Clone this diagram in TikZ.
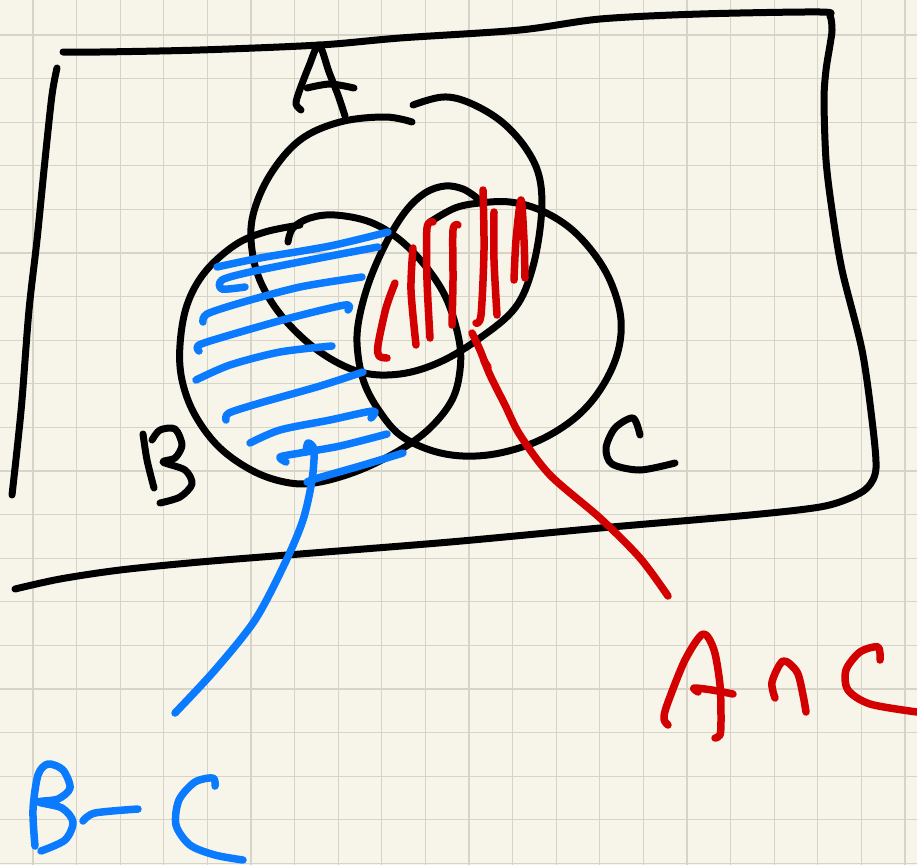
\documentclass[tikz,border=0pt]{standalone}
\definecolor{paper}{RGB}{247,245,233}
\definecolor{gridc}{RGB}{214,212,198}
\definecolor{pblue}{RGB}{10,122,255}
\definecolor{pred}{RGB}{210,0,0}
\tikzset{
  ink/.style={line width=7pt, line cap=round, line join=round},
  blk/.style={ink, black},
  blu/.style={ink, pblue, line width=7.5pt},
  rd/.style={ink, pred, line width=7.5pt},
  gridline/.style={gridc, line width=1.3pt}
}
\begin{document}
\begin{tikzpicture}[x=1pt,y=-1pt]
\fill[paper] (0,0) rectangle (917,865);
\useasboundingbox (0,0) rectangle (917,865);
\foreach \i in {0,...,20} \draw[gridline] ({33+43.6*\i},0) -- ({33+43.6*\i},865);
\foreach \i in {0,...,19} \draw[gridline] (0,{35+43.6*\i}) -- (917,{35+43.6*\i});

% frame
\draw[blk] plot[smooth, tension=0.5] coordinates {(63,52) (100,52) (200,50) (320,45) (400,38) (520,30) (600,19) (700,14) (820,12) (830,16) (832,30) (830,45) (826,70) (824,100) (826,160) (832,210) (842,270) (862,350) (872,420) (876,468) (868,487) (850,498) (820,507) (750,515) (600,528) (450,542) (300,554) (200,562) (120,570) (60,579) (15,589)};
\draw[blk] plot[smooth, tension=0.5] coordinates {(57,68) (52,95) (45,160) (37,240) (29,310) (22,400) (17,450) (12,495)};

% letter A
\draw[blk] plot[smooth, tension=0.5] coordinates {(301,110) (296,104) (299,92) (309,66) (319,45) (329,72) (338,95) (345,116)};
\draw[blk] plot[smooth, tension=0.5] coordinates {(307,88) (330,84) (354,88)};

% circle A
\draw[blk] plot[smooth, tension=0.6] coordinates {(412,122) (385,117) (340,122) (300,140) (270,175) (253,215) (252,250) (262,285) (285,320) (320,352) (360,372) (400,374) (440,362) (480,338) (515,308) (532,270) (541,220) (540,180) (527,150) (502,122) (470,103) (443,97) (413,105)};

% circle B
\draw[blk] plot[smooth, tension=0.6] coordinates {(288,242) (293,228) (310,218) (335,215) (370,222) (400,240) (427,268) (447,300) (459,340) (460,370) (452,400) (430,428) (400,450) (360,470) (320,482) (290,483) (255,472) (220,448) (195,415) (182,380) (180,345) (187,305) (205,272) (235,245) (265,232) (300,225)};

% circle C
\draw[blk] plot[smooth, tension=0.6] coordinates {(477,198) (463,189) (445,186) (425,193) (405,212) (385,245) (368,285) (358,325) (358,355) (365,385) (380,412) (400,435) (430,450) (463,456) (500,453) (540,440) (575,418) (600,390) (617,355) (621,320) (612,285) (595,255) (570,228) (540,210) (510,202) (480,203) (455,208) (430,222)};

% letter B
\draw[blk] plot[smooth, tension=0.5] coordinates {(143,434) (147,460) (154,488)};
\draw[blk] plot[smooth, tension=0.5] coordinates {(152,440) (160,430) (175,429) (182,445) (175,458) (163,462) (185,470) (192,484) (180,497) (160,503)};

% letter C
\draw[blk] plot[smooth, tension=0.5] coordinates {(640,435) (633,418) (615,428) (606,448) (612,464) (640,470) (675,463)};

% red hatching (A cap C)
\draw[rd] plot[smooth, tension=0.5] coordinates {(395,283) (386,308) (378,345) (379,356) (387,358)};
\draw[rd] plot[smooth, tension=0.5] coordinates {(413,248) (411,290) (416,345)};
\draw[rd] plot[smooth, tension=0.5] coordinates {(433,222) (427,228) (427,280) (430,338)};
\draw[rd] plot[smooth, tension=0.5] coordinates {(458,225) (453,230) (453,280) (452,325)};
\draw[rd] plot[smooth, tension=0.5] coordinates {(483,190) (484,250) (481,315) (476,323)};
\draw[rd] plot[smooth, tension=0.5] coordinates {(494,212) (494,260) (497,315)};
\draw[rd] plot[smooth, tension=0.5] coordinates {(514,280) (516,240) (521,200) (524,240) (525,278)};

% red connector
\coordinate (rs) at (472,333);
\coordinate (re) at (668,596);
\draw[rd] plot[smooth, tension=0.5] coordinates {(rs) (480,350) (490,375) (505,405) (520,435) (550,475) (600,518) (640,558) (re)};
\draw[rd] (484,361) -- (488,367);

% red label A cap C
\draw[rd] plot[smooth, tension=0.5] coordinates {(668,725) (664,719) (667,705) (685,660) (703,634) (714,650) (720,685) (721,720) (720,735) (715,738)};
\draw[rd] plot[smooth, tension=0.5] coordinates {(698,692) (694,688) (712,690) (733,694)};
\draw[rd] plot[smooth, tension=0.5] coordinates {(775,698) (772,682) (783,661) (797,672) (803,695) (806,712)};
\draw[rd] plot[smooth, tension=0.5] coordinates {(880,660) (878,647) (860,652) (846,670) (848,690) (870,704) (917,712)};

% blue hatching (B minus C)
\draw[blu] plot[smooth, tension=0.5] coordinates {(217,267) (260,258) (330,246) (388,232)};
\draw[blu] plot[smooth, tension=0.5] coordinates {(378,247) (320,258) (250,272) (222,280) (222,289) (245,287)};
\draw[blu] plot[smooth, tension=0.5] coordinates {(362,277) (300,287) (240,303) (207,314) (203,322)};
\draw[blu] plot[smooth, tension=0.5] coordinates {(348,310) (345,305) (290,318) (230,335) (199,345) (199,351)};
\draw[blu] plot[smooth, tension=0.5] coordinates {(332,346) (280,352) (230,365) (196,380)};
\draw[blu] plot[smooth, tension=0.5] coordinates {(363,372) (320,386) (260,403) (229,413) (226,420)};
\draw[blu] plot[smooth, tension=0.5] coordinates {(371,418) (373,411) (330,420) (280,430) (250,443)};
\draw[blu] plot[smooth, tension=0.5] coordinates {(387,434) (340,446) (300,453) (280,457) (286,462)};
\draw[blu] plot[smooth, tension=0.5] coordinates {(403,453) (360,466) (318,478) (307,482)};

% blue connector
\coordinate (bs) at (306,452);
\coordinate (be) at (175,713);
\draw[blu] plot[smooth, tension=0.5] coordinates {(bs) (308,443) (314,450) (312,480) (303,520) (285,563) (255,620) (215,670) (be)};

% blue label B - C
\draw[blu] plot[smooth, tension=0.5] coordinates {(35,846) (33,810) (38,775) (48,764) (63,770) (70,788) (58,799) (39,802) (62,808) (73,822) (65,840) (41,851)};
\draw[blu] plot[smooth, tension=0.5] coordinates {(83,821) (95,813) (138,809)};
\draw[blu] plot[smooth, tension=0.5] coordinates {(215,786) (213,778) (195,782) (179,800) (176,825) (190,845) (215,855) (243,860)};
\end{tikzpicture}
\end{document}
